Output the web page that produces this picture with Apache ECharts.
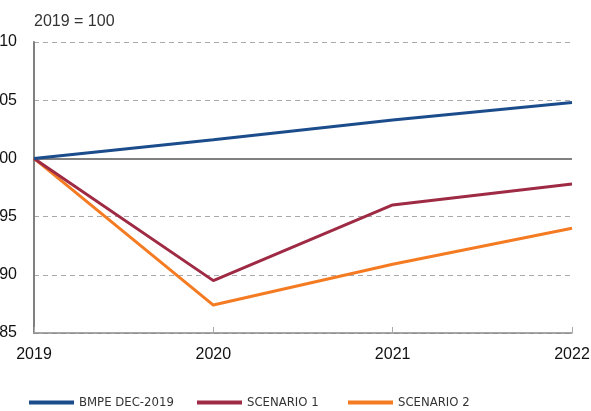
<!DOCTYPE html>
<html>
<head>
<meta charset="utf-8">
<script src="https://cdn.jsdelivr.net/npm/echarts@6/dist/echarts.min.js"></script>
<style>html,body{margin:0;padding:0;background:#fff;}#c{width:591px;height:411px;}</style>
</head>
<body>
<div id="c"></div>
<script>
var years = ['2019', '2020', '2021', '2022'];
var bmpe = [100, 101.6, 103.3, 104.8];
var scenario1 = [100, 89.5, 96.0, 97.8];
var scenario2 = [100, 87.4, 90.9, 94.0];
var seriesNames = ['BMPE DEC-2019', 'SCENARIO 1', 'SCENARIO 2'];
var yTicks = [85, 90, 95, 100, 105, 110];

var colors = ['#1b4c8c', '#9e2a44', '#f47b21'];
var chart = echarts.init(document.getElementById('c'), null, {renderer: 'canvas'});
var legendLefts = [29, 197, 348];
var legendTextStyle = {fontFamily: '"Liberation Sans Narrow", "DejaVu Sans Condensed", sans-serif', fontSize: 13, color: '#333'};
chart.setOption({
  animation: false,
  title: {text: '2019 = 100', left: 34, top: 14, padding: 0, textStyle: {fontFamily: 'Liberation Sans, Arial, sans-serif', fontSize: 16, fontWeight: 'normal', color: '#333'}},
  grid: {left: 34, right: 19, top: 42, bottom: 78, containLabel: false, outerBoundsMode: 'none'},
  legend: seriesNames.map(function (n, i) {
    return {data: [n], left: legendLefts[i], top: 396, padding: 0, icon: 'rect', itemWidth: 45, itemHeight: 4, itemGap: 8, textStyle: legendTextStyle, selectedMode: false};
  }),
  xAxis: {
    type: 'category', data: years, boundaryGap: false,
    axisLine: {lineStyle: {color: '#888', width: 1.5}},
    axisTick: {inside: true, length: 6, lineStyle: {color: '#aaa'}},
    axisLabel: {fontFamily: 'Liberation Sans, Arial, sans-serif', fontSize: 16, color: '#111', margin: 14}
  },
  yAxis: {
    type: 'value', min: yTicks[0], max: yTicks[yTicks.length - 1], interval: 5,
    axisLine: {show: true, lineStyle: {color: '#808080', width: 2}},
    axisTick: {show: false},
    axisLabel: {fontFamily: 'Liberation Sans, Arial, sans-serif', fontSize: 16, color: '#111', margin: 17},
    splitLine: {lineStyle: {color: '#aaa', type: [5, 4], width: 1}}
  },
  series: [
    {name: seriesNames[0], type: 'line', data: bmpe, color: colors[0], symbol: 'none', lineStyle: {width: 3}, z: 5,
      markLine: {silent: true, symbol: 'none', label: {show: false}, lineStyle: {color: '#808080', type: 'solid', width: 2}, data: [{yAxis: 100}], z: 1}},
    {name: seriesNames[1], type: 'line', data: scenario1, color: colors[1], symbol: 'none', lineStyle: {width: 3}, z: 4},
    {name: seriesNames[2], type: 'line', data: scenario2, color: colors[2], symbol: 'none', lineStyle: {width: 3}, z: 3}
  ]
});
</script>
</body>
</html>
